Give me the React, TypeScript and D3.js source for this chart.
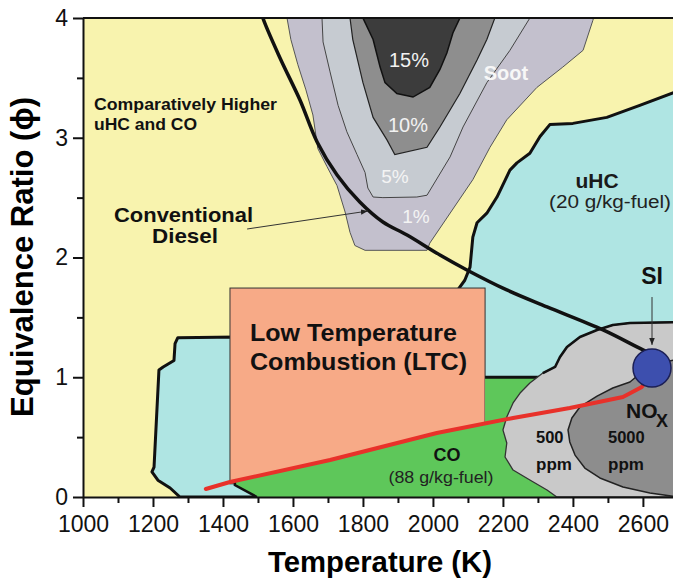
import React, { useEffect, useRef } from 'react';
import * as d3 from 'd3';

// chart size and plot area
const width = 673;
const height = 581;
const plot = { left: 83, right: 673, top: 18, bottom: 497 };

// axes
const tempDomain = [1000, 2686];
const phiDomain = [0, 4];
const xMajorTicks = [1000, 1200, 1400, 1600, 1800, 2000, 2200, 2400, 2600];
const xMinorTicks = [1100, 1300, 1500, 1700, 1900, 2100, 2300, 2500];
const yMajorTicks = [0, 1, 2, 3, 4];
const yMinorTicks = [0.5, 1.5, 2.5, 3.5];

// regions, as [temperature K, equivalence ratio]
const soot1 = [[1580, 4.1], [1583, 4.0], [1594, 3.82], [1614, 3.61], [1637, 3.4], [1657, 3.19], [1671, 2.91], [1697, 2.76], [1726, 2.6], [1749, 2.38], [1763, 2.21], [1777, 2.1], [1806, 2.06], [1983, 2.06], [1991, 2.12], [2114, 2.65], [2163, 2.92], [2211, 3.15], [2297, 3.42], [2371, 3.59], [2429, 3.73], [2457, 3.98], [2469, 4.1]];
const soot5 = [[1683, 4.1], [1683, 4.0], [1686, 3.8], [1706, 3.55], [1729, 3.27], [1754, 3.05], [1783, 2.86], [1806, 2.71], [1814, 2.58], [1829, 2.505], [1857, 2.5], [1954, 2.505], [1983, 2.52], [2049, 2.84], [2086, 3.09], [2154, 3.46], [2220, 3.73], [2277, 4.0], [2277, 4.1]];
const soot10 = [[1763, 4.1], [1763, 4.0], [1771, 3.82], [1800, 3.46], [1829, 3.17], [1869, 2.98], [1891, 2.86], [1983, 2.92], [2020, 3.09], [2077, 3.37], [2126, 3.65], [2154, 3.82], [2177, 4.0], [2177, 4.1]];
const soot15 = [[1800, 4.1], [1800, 4.0], [1829, 3.82], [1849, 3.59], [1863, 3.46], [1897, 3.37], [1943, 3.34], [1991, 3.42], [2020, 3.57], [2040, 3.71], [2057, 3.875], [2077, 4.0], [2077, 4.1]];

const uhcHighEdge = [[2700, 3.39], [2591, 3.27], [2497, 3.17], [2400, 3.12], [2334, 3.11], [2306, 3.01], [2277, 2.87], [2240, 2.79], [2220, 2.73], [2183, 2.505], [2154, 2.37], [2126, 2.29], [2114, 2.17], [2106, 1.92], [2091, 1.81], [2071, 1.73], [2060, 1.65]];
const uhcHighBelow = [[2100, 0.9], [2700, 0.9]];
const uhcLow = [[1440, 1.336], [1271, 1.33], [1263, 1.28], [1260, 1.14], [1229, 1.085], [1217, 1.06], [1203, 0.25], [1197, 0.21], [1214, 0.14], [1249, 0.075], [1277, 0], [1520, 0], [1440, 0.3]];

const ltcTemp = [1420, 2149];
const ltcPhi = [0.11, 1.745];

const coRegion = [[1434, 0.1], [1434, 0.134], [1706, 0.309], [2011, 0.534], [2149, 0.614], [2149, 1.0], [2390, 1.0], [2390, 0], [1497, 0]];
const coEdgeTop = [[2149, 1.0], [2330, 1.0]];
const coEdgeLeft = [[1434, 0.13], [1434, 0.1], [1497, 0]];

const nox500 = [[2700, 1.46], [2563, 1.453], [2514, 1.436], [2469, 1.395], [2420, 1.336], [2383, 1.253], [2363, 1.169], [2349, 1.086], [2314, 1.035], [2277, 0.952], [2249, 0.868], [2229, 0.785], [2211, 0.668], [2200, 0.56], [2211, 0.451], [2206, 0.334], [2229, 0.225], [2277, 0.142], [2326, 0.058], [2354, 0], [2700, 0]];
const nox500Top = nox500.slice(0, 9);
const nox5000 = [[2620, 1.1], [2563, 0.96], [2514, 0.91], [2469, 0.843], [2420, 0.752], [2397, 0.66], [2386, 0.56], [2391, 0.46], [2406, 0.35], [2434, 0.242], [2477, 0.159], [2543, 0.084], [2620, 0.033], [2700, 0.0], [2700, 1.15]];

// paths
const ltcPath = [[1351, 0.067], [1420, 0.125], [1706, 0.309], [2011, 0.534], [2229, 0.66], [2391, 0.743], [2543, 0.835], [2597, 0.919], [2614, 0.99]];
const dieselPath = [[1505, 4.1], [1514, 4.0], [1563, 3.666], [1620, 3.315], [1669, 2.965], [1726, 2.689], [1791, 2.463], [1857, 2.296], [1926, 2.188], [2020, 2.021], [2097, 1.896], [2211, 1.729], [2326, 1.587], [2486, 1.395], [2600, 1.228], [2649, 1.161]];
const siPoint = [2626, 1.077];
const dieselArrow = [[1469, 2.238], [1814, 2.388]];
const siArrow = [[2626, 1.67], [2626, 1.27]];

const font = 'Liberation Sans, Arial, Helvetica, sans-serif';

const App = () => {
  const xAxisRef = useRef(null);
  const yAxisRef = useRef(null);

  const x = d3.scaleLinear().domain(tempDomain).range([plot.left, plot.right]);
  const y = d3.scaleLinear().domain(phiDomain).range([plot.bottom, plot.top]);

  const line = d3.line().x(d => x(d[0])).y(d => y(d[1]));
  const area = (pts) => line(pts) + 'Z';
  const smooth = d3.line().x(d => x(d[0])).y(d => y(d[1])).curve(d3.curveCatmullRom);

  useEffect(() => {
    const gx = d3.select(xAxisRef.current);
    gx.selectAll('*').remove();
    gx.append('g').call(d3.axisBottom(x).tickValues(xMajorTicks).tickSize(10).tickSizeOuter(0).tickPadding(9).tickFormat(d3.format('d')));
    gx.append('g').call(d3.axisBottom(x).tickValues(xMinorTicks).tickSize(6).tickSizeOuter(0).tickFormat(() => ''))
      .select('.domain').remove();

    const gy = d3.select(yAxisRef.current);
    gy.selectAll('*').remove();
    gy.append('g').call(d3.axisLeft(y).tickValues(yMajorTicks).tickSize(10).tickSizeOuter(0).tickPadding(5).tickFormat(d3.format('d')));
    gy.append('g').call(d3.axisLeft(y).tickValues(yMinorTicks).tickSize(6).tickSizeOuter(0).tickFormat(() => ''))
      .select('.domain').remove();

    [gx, gy].forEach(g => {
      g.selectAll('path, line').attr('stroke', '#111').attr('stroke-width', 2);
      g.selectAll('text').attr('font-size', 23).attr('font-family', font).attr('fill', '#111');
    });
  }, []);

  return (
    <svg width={width} height={height} style={{ position: 'absolute', left: 0, top: 0, background: '#fff' }}>
      <defs>
        <clipPath id="plotClip">
          <rect x={plot.left} y={plot.top} width={plot.right - plot.left} height={plot.bottom - plot.top} />
        </clipPath>
        <marker id="arrowHead" viewBox="0 0 10 10" refX="10" refY="5" markerWidth="7" markerHeight="7" orient="auto">
          <path d="M0,1 L10,5 L0,9 Z" fill="#222" />
        </marker>
      </defs>

      <g clipPath="url(#plotClip)">
        <rect x={plot.left} y={plot.top} width={plot.right - plot.left} height={plot.bottom - plot.top} fill="#f8f3ae" />

        {/* soot contours */}
        <path d={area(soot1)} fill="#c3c0cd" stroke="#555" strokeWidth={1} />
        <path d={area(soot5)} fill="#c6cbd1" stroke="#444" strokeWidth={1} />
        <path d={area(soot10)} fill="#8e8e8e" stroke="#222" strokeWidth={1.2} />
        <path d={area(soot15)} fill="#3c3c3c" stroke="#111" strokeWidth={1.5} />

        {/* uHC */}
        <path d={area([...uhcHighEdge, ...uhcHighBelow])} fill="#afe5e3" />
        <path d={line(uhcHighEdge)} fill="none" stroke="#111" strokeWidth={3} strokeLinejoin="round" />
        <path d={area(uhcLow)} fill="#afe5e3" stroke="#111" strokeWidth={3} strokeLinejoin="round" />

        {/* LTC box */}
        <rect x={x(ltcTemp[0])} y={y(ltcPhi[1])} width={x(ltcTemp[1]) - x(ltcTemp[0])} height={y(ltcPhi[0]) - y(ltcPhi[1])}
          fill="#f7aa87" stroke="#333" strokeWidth={1} />

        {/* CO */}
        <path d={area(coRegion)} fill="#5ec75a" />
        <path d={line(coEdgeTop)} fill="none" stroke="#111" strokeWidth={3} />
        <path d={line(coEdgeLeft)} fill="none" stroke="#111" strokeWidth={2.5} />

        {/* NOx */}
        <path d={area(nox500)} fill="#c9c9c9" stroke="#333" strokeWidth={1.3} strokeLinejoin="round" />
        <path d={line(nox500Top)} fill="none" stroke="#111" strokeWidth={2.6} strokeLinejoin="round" />
        <path d={area(nox5000)} fill="#8d8d8d" stroke="#222" strokeWidth={1.5} strokeLinejoin="round" />

        {/* LTC path and conventional diesel path */}
        <path d={line(ltcPath)} fill="none" stroke="#e8312a" strokeWidth={4} strokeLinejoin="round" strokeLinecap="round" />
        <path d={smooth(dieselPath)} fill="none" stroke="#111" strokeWidth={3.5} />
        <circle cx={x(siPoint[0])} cy={y(siPoint[1])} r={19} fill="#3d4fae" stroke="#1b1f55" strokeWidth={1.5} />
      </g>

      {/* arrows */}
      <path d={line(dieselArrow)} stroke="#333" strokeWidth={1} fill="none" markerEnd="url(#arrowHead)" />
      <path d={line(siArrow)} stroke="#333" strokeWidth={1} fill="none" markerEnd="url(#arrowHead)" />

      {/* labels */}
      <g fontFamily={font} fill="#111">
        <text x={94} y={110} fontSize={17} fontWeight="bold" textLength={183} lengthAdjust="spacingAndGlyphs">Comparatively Higher</text>
        <text x={94} y={130} fontSize={17} fontWeight="bold" textLength={103} lengthAdjust="spacingAndGlyphs">uHC and CO</text>
        <text x={114} y={222} fontSize={21} fontWeight="bold" textLength={139} lengthAdjust="spacingAndGlyphs">Conventional</text>
        <text x={152} y={243} fontSize={21} fontWeight="bold" textLength={66} lengthAdjust="spacingAndGlyphs">Diesel</text>

        <text x={409} y={67} fontSize={20} fill="#f2f2f2" textAnchor="middle">15%</text>
        <text x={408} y={132} fontSize={20} fill="#f2f2f2" textAnchor="middle">10%</text>
        <text x={395} y={183} fontSize={19} fill="#f4f4f4" textAnchor="middle">5%</text>
        <text x={416} y={223} fontSize={19} fill="#f4f4f4" textAnchor="middle">1%</text>
        <text x={506} y={80} fontSize={20} fontWeight="bold" fill="#f7f7f7" textAnchor="middle">Soot</text>

        <text x={597} y={188} fontSize={21} fontWeight="bold" textAnchor="middle" fill="#1a1a1a">uHC</text>
        <text x={610} y={208} fontSize={18} textAnchor="middle" fill="#222" textLength={122} lengthAdjust="spacingAndGlyphs">(20 g/kg-fuel)</text>

        <text x={250} y={341} fontSize={24} fontWeight="bold" textLength={207} lengthAdjust="spacingAndGlyphs">Low Temperature</text>
        <text x={250} y={370} fontSize={24} fontWeight="bold" textLength={217} lengthAdjust="spacingAndGlyphs">Combustion (LTC)</text>

        <text x={447} y={461} fontSize={18} fontWeight="bold" textAnchor="middle">CO</text>
        <text x={441} y={483} fontSize={16} textAnchor="middle" fill="#222" textLength={105} lengthAdjust="spacingAndGlyphs">(88 g/kg-fuel)</text>

        <text x={652} y={284} fontSize={23} fontWeight="bold" textAnchor="middle">SI</text>
        <text x={626} y={418} fontSize={21} fontWeight="bold">NO</text>
        <text x={656} y={427} fontSize={18} fontWeight="bold">X</text>
        <text x={536} y={443} fontSize={16.5} fontWeight="bold">500</text>
        <text x={536} y={470} fontSize={17} fontWeight="bold">ppm</text>
        <text x={608} y={443} fontSize={16.5} fontWeight="bold">5000</text>
        <text x={608} y={470} fontSize={17} fontWeight="bold">ppm</text>
      </g>

      {/* axes */}
      <g ref={xAxisRef} transform={`translate(0,${plot.bottom})`} />
      <g ref={yAxisRef} transform={`translate(${plot.left},0)`} />
      <line x1={plot.left} x2={plot.right} y1={plot.top} y2={plot.top} stroke="#111" strokeWidth={2} />

      <text x={380} y={572} fontFamily={font} fontSize={30} fontWeight="bold" textAnchor="middle" textLength={224} lengthAdjust="spacingAndGlyphs">Temperature (K)</text>
      <text transform="translate(33,257) rotate(-90)" fontFamily={font} fontSize={31} fontWeight="bold" textAnchor="middle" textLength={320} lengthAdjust="spacingAndGlyphs">Equivalence Ratio (ϕ)</text>
    </svg>
  );
};

export default App;
